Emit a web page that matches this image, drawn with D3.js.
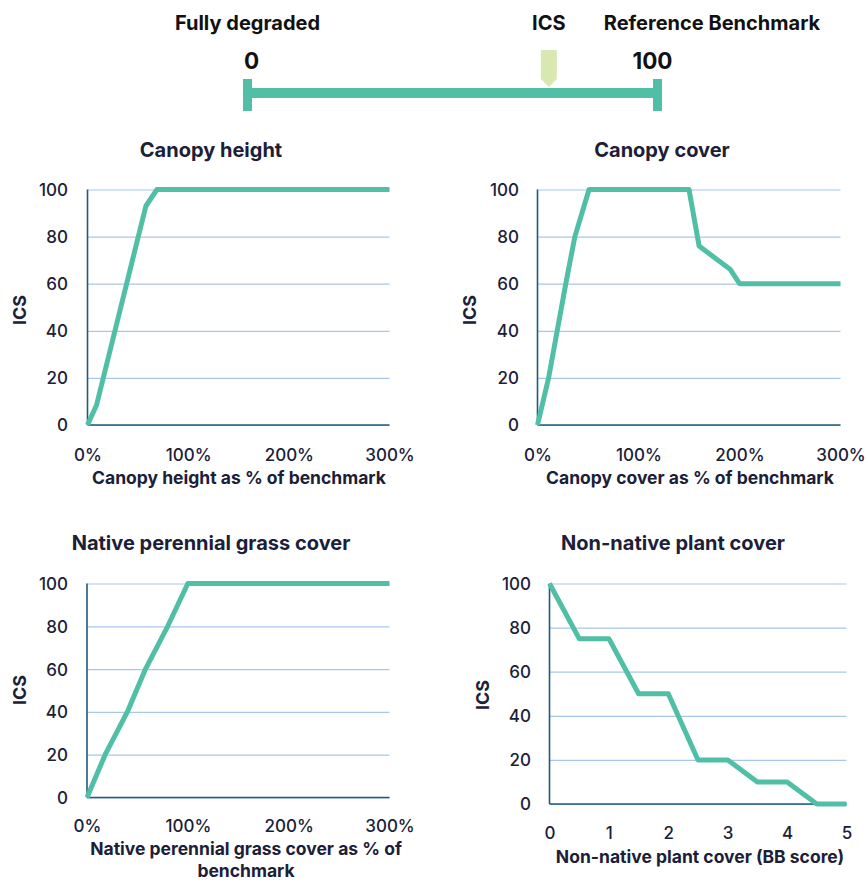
<!DOCTYPE html>
<html>
<head>
<meta charset="utf-8">
<script src="https://cdn.jsdelivr.net/npm/d3@7"></script>
<style>
  html, body { margin: 0; padding: 0; background: #ffffff; }
  svg { display: block; }
  text { font-family: Inter, "Noto Sans", sans-serif; }
</style>
</head>
<body>
<svg id="chart" width="867" height="882"></svg>
<script>
// ---------------- DATA ----------------
const headerLabels = ["Fully degraded", "ICS", "Reference Benchmark"];
const scaleEnds = [0, 100];
const icsMarkerValue = 73.5;

const yTicks = [0, 20, 40, 60, 80, 100];
const pctTicks = [0, 100, 200, 300];
const bbTicks = [0, 1, 2, 3, 4, 5];

const canopyHeightX = [0, 9, 58, 69, 300];
const canopyHeightY = [0, 8.5, 93, 100, 100];

const canopyCoverX = [0, 11, 28, 37, 51, 150, 160, 191, 200, 300];
const canopyCoverY = [0, 20, 60, 80, 100, 100, 76, 66, 60, 60];

const grassX = [0, 18, 40, 58, 80, 100, 300];
const grassY = [0, 20, 40, 60, 80, 100, 100];

const nonNativeX = [0, 0.5, 1, 1.5, 2, 2.5, 3, 3.5, 4, 4.5, 5];
const nonNativeY = [100, 75, 75, 50, 50, 20, 20, 10, 10, 0, 0];

const titles = ["Canopy height", "Canopy cover", "Native perennial grass cover", "Non-native plant cover"];
const xTitles = [
  ["Canopy height as % of benchmark"],
  ["Canopy cover as % of benchmark"],
  ["Native perennial grass cover as % of", "benchmark"],
  ["Non-native plant cover (BB score)"]
];
const yTitle = "ICS";

// ---------------- STYLE ----------------
const teal = "#50bfa5";
const gridCol = "#a9c7ea";
const axisCol = "#1c5b7c";
const textCol = "#1b2038";
const markerCol = "#d9e8b2";

const svg = d3.select("#chart");

// ---------------- HEADER SCALE ----------------
const hx = d3.scaleLinear().domain(scaleEnds).range([247.5, 657.5]);
const header = svg.append("g");
header.append("text").attr("x", 247.5).attr("y", 30).attr("text-anchor", "middle")
  .attr("font-size", 20).attr("font-weight", 700).attr("fill", "#111").text(headerLabels[0]);
header.append("text").attr("x", hx(icsMarkerValue)).attr("y", 30).attr("text-anchor", "middle")
  .attr("font-size", 20).attr("font-weight", 700).attr("fill", "#111").text(headerLabels[1]);
header.append("text").attr("x", 712).attr("y", 30).attr("text-anchor", "middle")
  .attr("font-size", 20).attr("font-weight", 700).attr("fill", "#111").text(headerLabels[2]);
header.selectAll("text.end").data(scaleEnds).join("text").attr("class", "end")
  .attr("x", d => hx(d) + (d === 0 ? 4 : -5)).attr("y", 69).attr("text-anchor", "middle")
  .attr("font-size", 22.5).attr("font-weight", 700).attr("fill", "#111").text(d => d);
header.append("line").attr("x1", hx(0)).attr("x2", hx(100)).attr("y1", 93).attr("y2", 93)
  .attr("stroke", teal).attr("stroke-width", 10);
header.selectAll("line.cap").data(scaleEnds).join("line").attr("class", "cap")
  .attr("x1", d => hx(d)).attr("x2", d => hx(d)).attr("y1", 79).attr("y2", 111)
  .attr("stroke", teal).attr("stroke-width", 9);
const mx = hx(icsMarkerValue);
header.append("path")
  .attr("d", `M${mx - 8},50 L${mx + 8},50 L${mx + 8},79 L${mx},87 L${mx - 8},79 Z`)
  .attr("fill", markerCol);

// ---------------- PANELS ----------------
const panels = [
  { x: canopyHeightX, y: canopyHeightY, dom: [0, 300], ticks: pctTicks, pct: true,
    box: [87.5, 389.5, 189.5, 425], titleXY: [211, 157], ylab: [68, 20, 310],
    xlabY: 455, xTitleXY: [239, 484] },
  { x: canopyCoverX, y: canopyCoverY, dom: [0, 300], ticks: pctTicks, pct: true,
    box: [537.5, 840.5, 189.5, 425], titleXY: [662, 157], ylab: [519, 470, 310],
    xlabY: 455, xTitleXY: [690, 484] },
  { x: grassX, y: grassY, dom: [0, 300], ticks: pctTicks, pct: true,
    box: [87, 389.5, 583.5, 797.5], titleXY: [211, 550], ylab: [68, 20, 690],
    xlabY: 826, xTitleXY: [246, 855], xTitle2Y: 877 },
  { x: nonNativeX, y: nonNativeY, dom: [0, 5], ticks: bbTicks, pct: false,
    box: [549.5, 846.5, 583.5, 804], titleXY: [673, 550], ylab: [531, 483, 695],
    xlabY: 833, xTitleXY: [700, 863] }
];

panels.forEach((p, i) => {
  const [x0, x1, y0, y1] = p.box;
  const xs = d3.scaleLinear().domain(p.dom).range([x0, x1]);
  const ys = d3.scaleLinear().domain([0, 100]).range([y1, y0]);
  const g = svg.append("g");

  // title
  g.append("text").attr("x", p.titleXY[0]).attr("y", p.titleXY[1]).attr("text-anchor", "middle")
    .attr("font-size", 20).attr("font-weight", 700).attr("fill", textCol).text(titles[i]);

  // gridlines
  g.append("g").attr("transform", `translate(${x0},0)`)
    .call(d3.axisLeft(ys).tickValues(yTicks).tickSize(-(x1 - x0)).tickFormat(""))
    .call(a => a.select(".domain").remove())
    .call(a => a.selectAll("line").attr("stroke", gridCol).attr("stroke-width", 1.2));

  // y tick labels
  g.append("g").attr("transform", `translate(${p.ylab[0]},0)`)
    .call(d3.axisLeft(ys).tickValues(yTicks).tickSize(0).tickPadding(0))
    .call(a => a.select(".domain").remove())
    .call(a => a.selectAll("text").attr("font-size", 17).attr("font-family", "Inter, sans-serif")
      .attr("font-weight", 500).attr("fill", textCol).attr("dy", "0.35em"));

  // x tick labels
  g.append("g").attr("transform", `translate(0,${p.xlabY})`)
    .call(d3.axisBottom(xs).tickValues(p.ticks).tickSize(0).tickPadding(0)
      .tickFormat(d => p.pct ? d + "%" : d))
    .call(a => a.select(".domain").remove())
    .call(a => a.selectAll("text").attr("font-size", 17).attr("font-family", "Inter, sans-serif")
      .attr("font-weight", 500).attr("fill", textCol).attr("dy", "0.35em"));

  // axis lines
  g.append("line").attr("x1", x0).attr("x2", x0).attr("y1", y0).attr("y2", y1)
    .attr("stroke", axisCol).attr("stroke-width", 1.6);
  g.append("line").attr("x1", x0).attr("x2", x1).attr("y1", y1).attr("y2", y1)
    .attr("stroke", axisCol).attr("stroke-width", 1.6);

  // y title
  g.append("text").attr("transform", `translate(${p.ylab[1]},${p.ylab[2]}) rotate(-90)`)
    .attr("text-anchor", "middle").attr("dy", "0.35em")
    .attr("font-size", 18).attr("font-weight", 700).attr("fill", textCol).text(yTitle);

  // x title
  xTitles[i].forEach((t, k) => {
    g.append("text").attr("x", p.xTitleXY[0]).attr("y", k === 0 ? p.xTitleXY[1] : p.xTitle2Y)
      .attr("text-anchor", "middle").attr("font-size", 17.5).attr("font-weight", 700)
      .attr("fill", textCol).text(t);
  });

  // data line
  const pts = p.x.map((v, k) => [v, p.y[k]]);
  g.append("path").datum(pts)
    .attr("d", d3.line().x(d => xs(d[0])).y(d => ys(d[1])))
    .attr("fill", "none").attr("stroke", teal).attr("stroke-width", 5)
    .attr("stroke-linejoin", "round");
});
</script>
</body>
</html>
